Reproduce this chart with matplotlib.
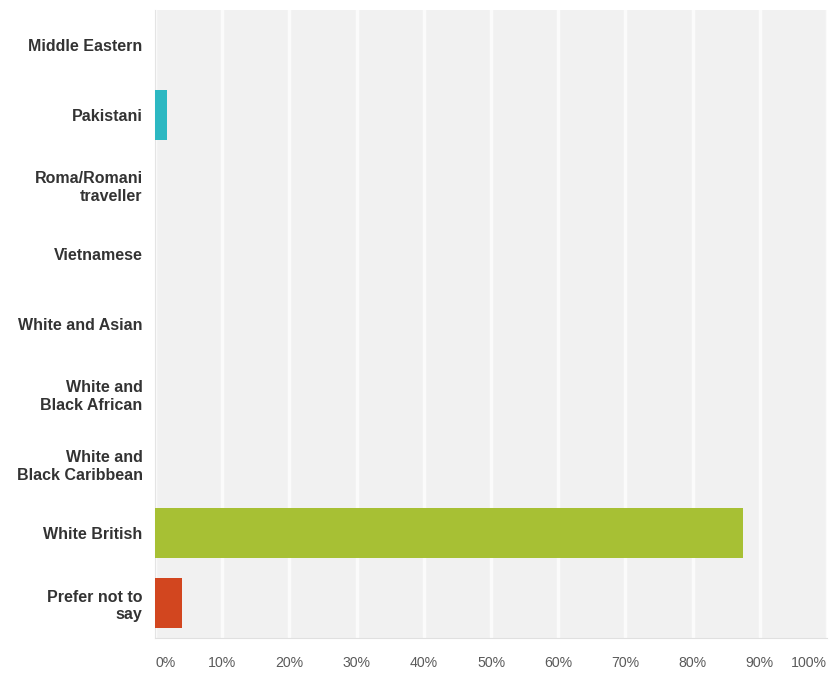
import numpy as np
import matplotlib.pyplot as plt

# Survey responses: ethnic group (percentage of respondents)
categories = ['Middle Eastern', 'Pakistani', 'Roma/Romani\ntraveller', 'Vietnamese',
              'White and Asian', 'White and\nBlack African', 'White and\nBlack Caribbean',
              'White British', 'Prefer not to\nsay']
values = [0, 1.8, 0, 0, 0, 0, 0, 87.5, 4.0]
colors = ['#8a3b8f', '#2cb8c2', '#6d8fcf', '#e6a23c', '#5c6f7c',
          '#c9566d', '#4a9a5e', '#a7c034', '#d2461f']
ticks = np.arange(0, 101, 10)
tick_labels = ['%d%%' % t for t in ticks]

plt.rcParams['font.family'] = ['Liberation Sans', 'DejaVu Sans']

fig = plt.figure(figsize=(8.38, 6.75), dpi=100)
ax = fig.add_axes([0.185, 0.055, 0.802, 0.93])

y = np.arange(len(categories))
ax.barh(y, values, height=0.72, color=colors, zorder=3)

ax.set_facecolor('#f1f1f1')
ax.set_xlim(0, 100)
ax.set_ylim(len(categories) - 0.5, -0.5)

ax.set_xticks(ticks)
ax.grid(axis='x', color='#fbfbfb', linewidth=2.5, zorder=1)
ax.tick_params(axis='both', length=0)
ax.set_xticklabels(tick_labels, fontsize=10.2, color='#5a5a5a')
labels = ax.get_xticklabels()
labels[0].set_horizontalalignment('left')
labels[-1].set_horizontalalignment('right')
ax.tick_params(axis='x', pad=13)

ax.set_yticks(y)
ax.set_yticklabels(categories, fontsize=11.5, fontweight='bold', color='#333333',
                   multialignment='right', linespacing=1.25)
ax.tick_params(axis='y', pad=9)

for side in ['top', 'right']:
    ax.spines[side].set_visible(False)
ax.spines['left'].set_color('#e4e4e4')
ax.spines['bottom'].set_color('#e0e0e0')

fig.savefig('out.png', dpi=100)
